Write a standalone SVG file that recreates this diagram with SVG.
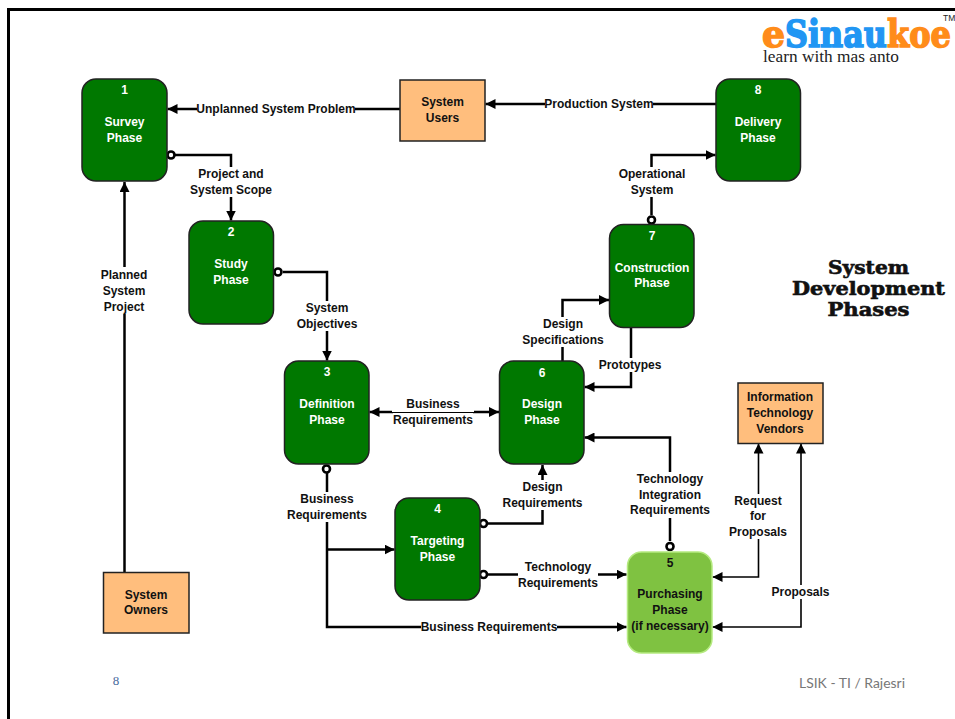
<svg xmlns="http://www.w3.org/2000/svg" width="955" height="719" viewBox="0 0 955 719">
<style>
.n{fill:#007800;stroke:#222;stroke-width:1.5}
.e{fill:#ffbe7d;stroke:#222;stroke-width:1.5}
.p{fill:#7fc241;stroke:#b5ea80;stroke-width:1.5}
text{font-family:"Liberation Sans",Arial,sans-serif;font-weight:700;font-size:12px;text-anchor:middle}
.w{fill:#fff}
.k{fill:#111}
.c{fill:none;stroke:#000;stroke-width:2.5}
.t{fill:none;stroke:#000;stroke-width:1.6}
.o{fill:#fff;stroke:#000;stroke-width:2.6}
.b{fill:#fff}
.h{font-family:"DejaVu Serif",serif;font-weight:700;font-size:18px;fill:#111;stroke:#111;stroke-width:.6}
.l{font-family:"DejaVu Serif",serif;font-weight:700;font-size:38px;text-anchor:start;stroke-width:1.6}
.lo{fill:#ff8c1a;stroke:#ff8c1a}
.lb{fill:#2196f3;stroke:#2196f3}
</style>
<defs>
<marker id="a" markerUnits="userSpaceOnUse" markerWidth="10" markerHeight="10" refX="10" refY="5" orient="auto-start-reverse"><path d="M0 0L10 5L0 10Z" fill="#000"/></marker>
</defs>
<rect width="955" height="719" fill="#fff"/>
<path d="M8.500 719V9.500H955" fill="none" stroke="#000" stroke-width="3"/>

<g id="connectors">
<path class="c" d="M124.500 572V182" marker-end="url(#a)"/>
<path class="c" d="M400 109H167.500" marker-end="url(#a)"/>
<path class="c" d="M716 104H485.500" marker-end="url(#a)"/>
<path class="c" d="M175 155H231V220.500" marker-end="url(#a)"/>
<path class="c" d="M283 272H327V360.500" marker-end="url(#a)"/>
<path class="c" d="M327 473V627H626.500" marker-end="url(#a)"/>
<path class="c" d="M327 549.500H394.500" marker-end="url(#a)"/>
<path class="c" d="M369.500 412H499" marker-start="url(#a)" marker-end="url(#a)"/>
<path class="c" d="M488 523.500H542.500V465" marker-end="url(#a)"/>
<path class="c" d="M488 574.500H626.500" marker-end="url(#a)"/>
<path class="c" d="M670 541V437.500H584.500" marker-end="url(#a)"/>
<path class="c" d="M562.500 361V300H609" marker-end="url(#a)"/>
<path class="c" d="M631 327V387H584.500" marker-end="url(#a)"/>
<path class="c" d="M651.500 215V155H715.500" marker-end="url(#a)"/>
<path class="t" d="M712.500 577H758.500V443.500" marker-start="url(#a)" marker-end="url(#a)"/>
<path class="t" d="M712.500 627H801V443.500" marker-start="url(#a)" marker-end="url(#a)"/>
<circle class="o" cx="171" cy="155" r="3.500"/>
<circle class="o" cx="278" cy="272" r="3.500"/>
<circle class="o" cx="326.500" cy="469" r="3.500"/>
<circle class="o" cx="483.500" cy="523.500" r="3.500"/>
<circle class="o" cx="483.500" cy="574.500" r="3.500"/>
<circle class="o" cx="670" cy="546.500" r="3.500"/>
<circle class="o" cx="651.500" cy="220" r="3.500"/>

<g id="connector-labels">
<rect class="b" x="197" y="102" width="158" height="14"/>
<text class="k" x="276" y="113">Unplanned System Problem</text>
<rect class="b" x="545" y="97" width="108" height="14"/>
<text class="k" x="599" y="108">Production System</text>
<rect class="b" x="190" y="167" width="82" height="30"/>
<text class="k" x="231" y="178">Project and</text>
<text class="k" x="231" y="194">System Scope</text>
<rect class="b" x="100" y="267" width="49" height="47"/>
<text class="k" x="124" y="279">Planned</text>
<text class="k" x="124" y="295">System</text>
<text class="k" x="124" y="311">Project</text>
<rect class="b" x="296" y="301" width="62" height="30"/>
<text class="k" x="327" y="312">System</text>
<text class="k" x="327" y="328">Objectives</text>
<rect class="b" x="392" y="398" width="82" height="14"/>
<rect class="b" x="393" y="413" width="80" height="14"/>
<text class="k" x="433" y="408">Business</text>
<text class="k" x="433" y="424">Requirements</text>
<rect class="b" x="287" y="492" width="80" height="30"/>
<text class="k" x="327" y="503">Business</text>
<text class="k" x="327" y="519">Requirements</text>
<rect class="b" x="502" y="480" width="80" height="30"/>
<text class="k" x="542.500" y="491">Design</text>
<text class="k" x="542.500" y="507">Requirements</text>
<rect class="b" x="518" y="560" width="80" height="30"/>
<text class="k" x="558" y="571">Technology</text>
<text class="k" x="558" y="587">Requirements</text>
<rect class="b" x="421" y="620" width="136" height="14"/>
<text class="k" x="489" y="631">Business Requirements</text>
<rect class="b" x="522" y="317" width="82" height="30"/>
<text class="k" x="563" y="328">Design</text>
<text class="k" x="563" y="344">Specifications</text>
<rect class="b" x="599" y="358" width="63" height="14"/>
<text class="k" x="630" y="369">Prototypes</text>
<rect class="b" x="618" y="167" width="68" height="30"/>
<text class="k" x="652" y="178">Operational</text>
<text class="k" x="652" y="194">System</text>
<rect class="b" x="630" y="472" width="80" height="46"/>
<text class="k" x="670" y="483">Technology</text>
<text class="k" x="670" y="499">Integration</text>
<text class="k" x="670" y="514">Requirements</text>
<rect class="b" x="729" y="494" width="59" height="45"/>
<text class="k" x="758" y="505">Request</text>
<text class="k" x="758" y="520">for</text>
<text class="k" x="758" y="536">Proposals</text>
<rect class="b" x="772" y="585" width="58" height="14"/>
<text class="k" x="800.500" y="596">Proposals</text>
</g>
</g>

<g id="node-1"><rect class="n" x="82" y="79" width="85" height="102" rx="14"/><text class="w" x="124.500" y="94">1</text><text class="w" x="124.500" y="126">Survey</text><text class="w" x="124.500" y="142">Phase</text></g>
<g id="node-2"><rect class="n" x="189" y="221" width="84.500" height="103" rx="14"/><text class="w" x="231" y="236">2</text><text class="w" x="231" y="268">Study</text><text class="w" x="231" y="284">Phase</text></g>
<g id="node-3"><rect class="n" x="284.500" y="361" width="84.500" height="103" rx="14"/><text class="w" x="327" y="376">3</text><text class="w" x="327" y="408">Definition</text><text class="w" x="327" y="424">Phase</text></g>
<g id="node-4"><rect class="n" x="395" y="498" width="85" height="102" rx="14"/><text class="w" x="437.500" y="513">4</text><text class="w" x="437.500" y="545">Targeting</text><text class="w" x="437.500" y="561">Phase</text></g>
<g id="node-5"><rect class="p" x="627.500" y="552" width="84.500" height="101" rx="14"/><text class="k" x="670" y="567">5</text><text class="k" x="670" y="598">Purchasing</text><text class="k" x="670" y="614">Phase</text><text class="k" x="670" y="630">(if necessary)</text></g>
<g id="node-6"><rect class="n" x="499.500" y="361" width="84.500" height="103" rx="14"/><text class="w" x="542" y="377">6</text><text class="w" x="542" y="408">Design</text><text class="w" x="542" y="424">Phase</text></g>
<g id="node-7"><rect class="n" x="609.500" y="224.500" width="84.500" height="103" rx="14"/><text class="w" x="652" y="240">7</text><text class="w" x="652" y="272">Construction</text><text class="w" x="652" y="287">Phase</text></g>
<g id="node-8"><rect class="n" x="716" y="79" width="84.500" height="102" rx="14"/><text class="w" x="758" y="94">8</text><text class="w" x="758" y="126">Delivery</text><text class="w" x="758" y="142">Phase</text></g>
<g id="system-users"><rect class="e" x="400" y="80" width="85" height="61"/><text class="k" x="442.500" y="106">System</text><text class="k" x="442.500" y="122">Users</text></g>
<g id="vendors"><rect class="e" x="738" y="383" width="85" height="60.500"/><text class="k" x="780" y="401">Information</text><text class="k" x="780" y="417">Technology</text><text class="k" x="780" y="433">Vendors</text></g>
<g id="system-owners"><rect class="e" x="103.500" y="572.500" width="85.500" height="60.500"/><text class="k" x="146" y="599">System</text><text class="k" x="146" y="614">Owners</text></g>

<g id="title">
<text class="h" x="868.500" y="274" textLength="81" lengthAdjust="spacingAndGlyphs">System</text>
<text class="h" x="868.500" y="295" textLength="153" lengthAdjust="spacingAndGlyphs">Development</text>
<text class="h" x="868.500" y="316" textLength="82" lengthAdjust="spacingAndGlyphs">Phases</text>
</g>
<g id="logo">
<text class="l lo" x="762" y="47" textLength="23" lengthAdjust="spacingAndGlyphs">e</text>
<text class="l lb" x="785" y="47" textLength="102" lengthAdjust="spacingAndGlyphs">Sinau</text>
<text class="l lo" x="887" y="47" textLength="64" lengthAdjust="spacingAndGlyphs">koe</text>
<text x="763" y="62" textLength="136" lengthAdjust="spacingAndGlyphs" style="font-family:'Liberation Serif',serif;font-weight:400;font-size:16.500px;text-anchor:start;fill:#222">learn with mas anto</text>
<text x="943" y="21" style="font-weight:400;font-size:8.500px;text-anchor:start;fill:#222">TM</text>
</g>
<text x="116" y="685" style="font-family:'Liberation Serif',serif;font-weight:400;font-size:13px;fill:#46699c">8</text>
<text x="852" y="688" textLength="106" lengthAdjust="spacingAndGlyphs" style="font-family:Lato,sans-serif;font-weight:400;font-size:13.500px;fill:#777">LSIK - TI / Rajesri</text>
</svg>
